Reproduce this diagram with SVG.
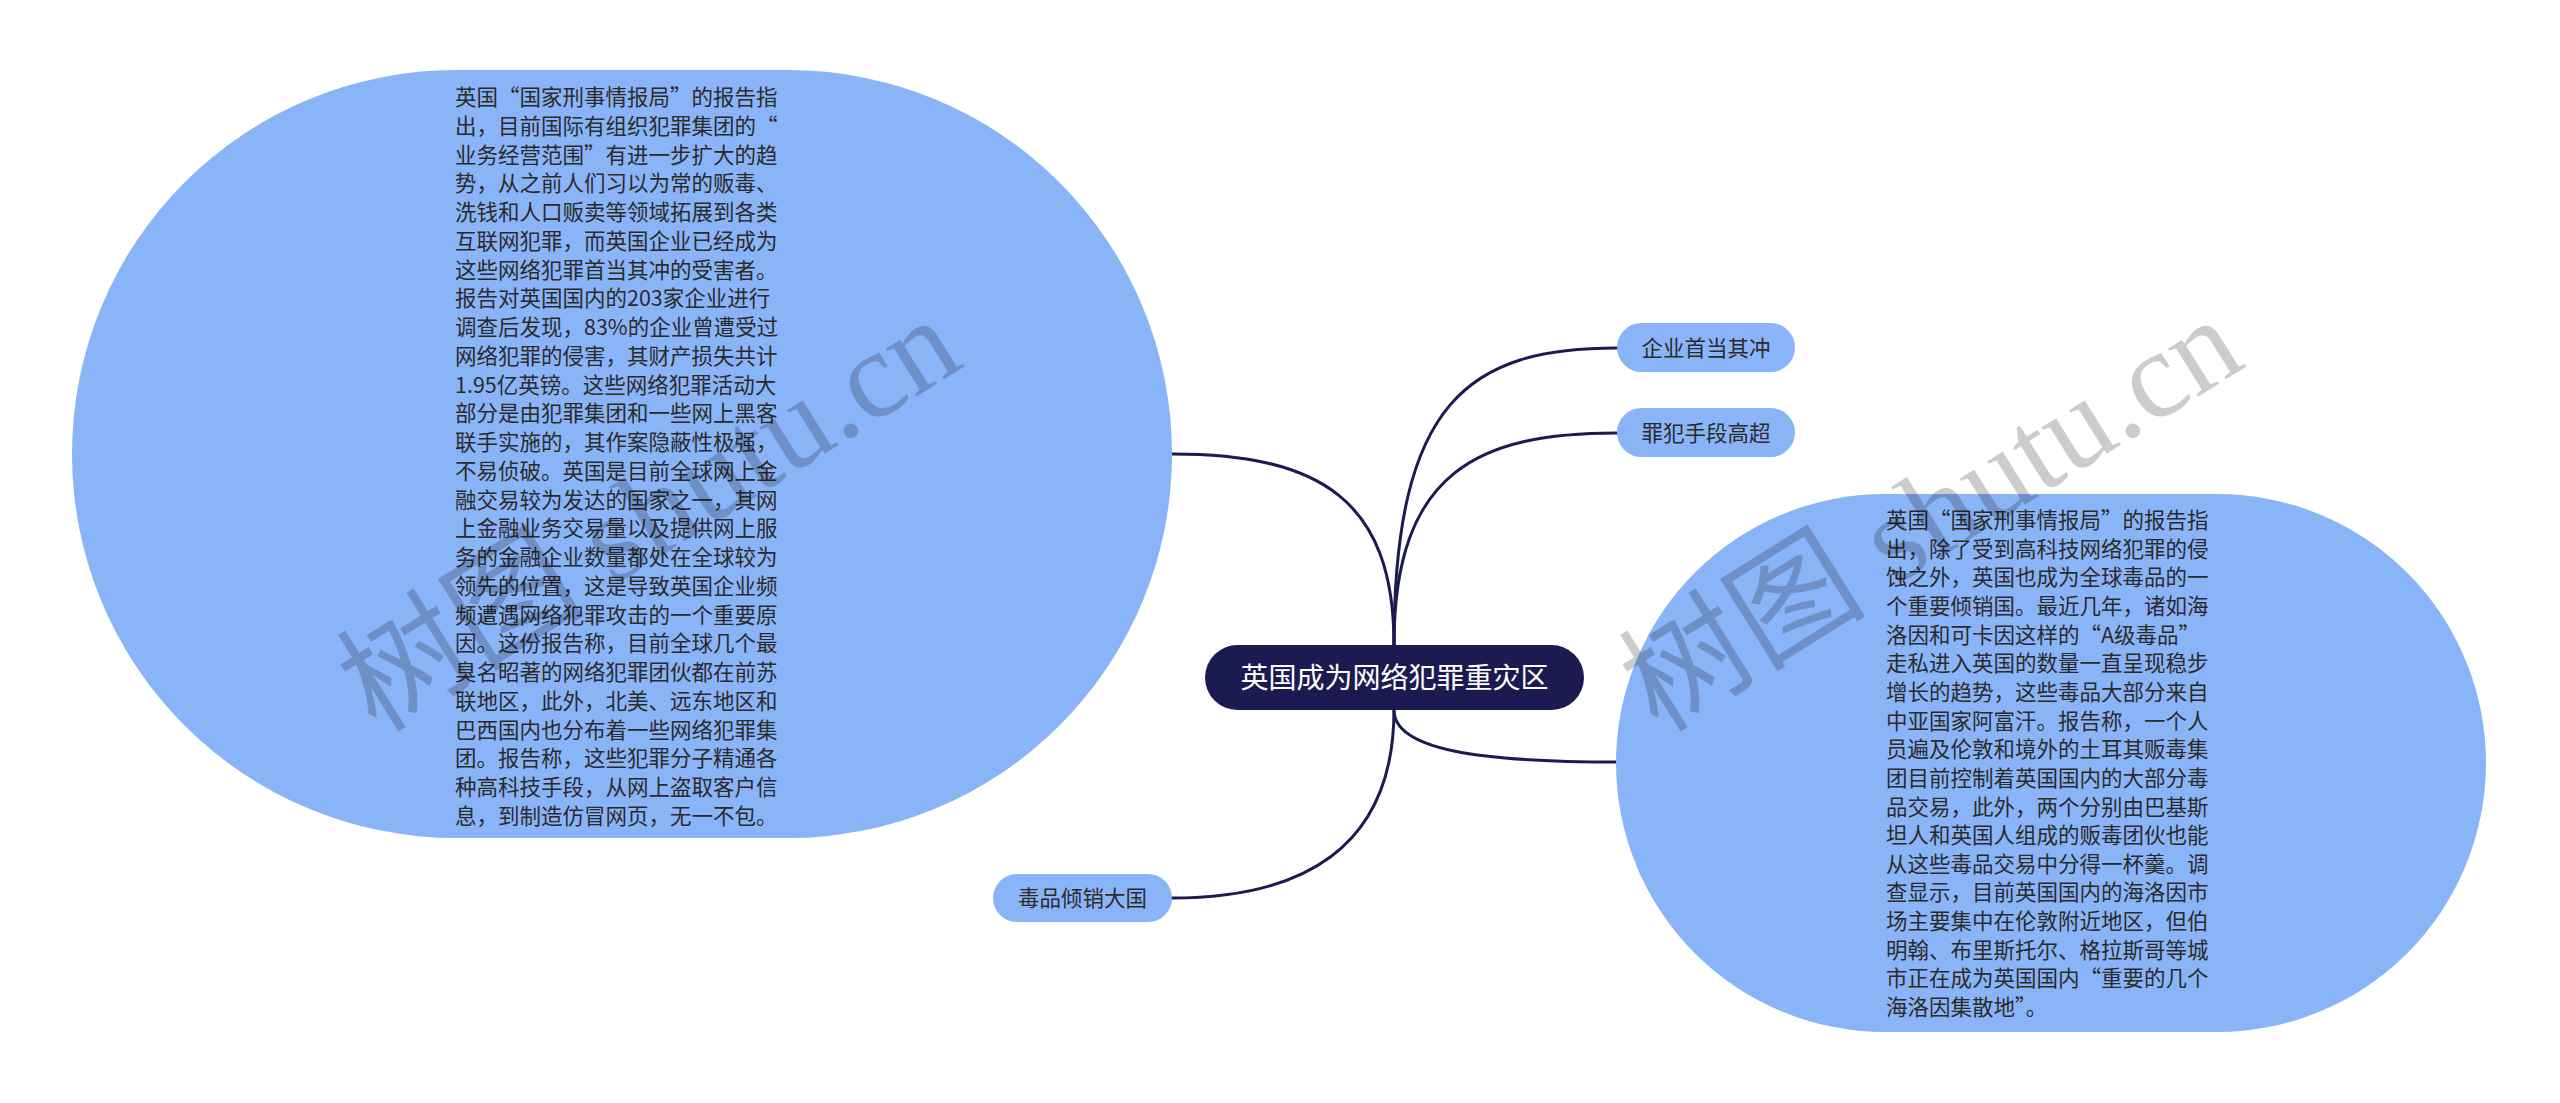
<svg xmlns="http://www.w3.org/2000/svg" width="2560" height="1103" viewBox="0 0 2560 1103">
<style>
.bubble{fill:#8ab4f8;}
.btxt{font-family:"Noto Sans CJK SC","Liberation Sans",sans-serif;font-size:21.5px;fill:#2b2b2b;}
.ntxt{font-family:"Noto Sans CJK SC","Liberation Sans",sans-serif;font-size:21.5px;fill:#2b2b2b;text-anchor:middle;}
.ctxt{font-family:"Noto Sans CJK SC","Liberation Sans",sans-serif;font-size:28px;fill:#ffffff;text-anchor:middle;}
.link{fill:none;stroke:#1b1b52;stroke-width:3;stroke-linecap:round;}
.wm{font-family:"Liberation Serif","Noto Sans CJK SC",serif;font-size:124px;fill:#000000;fill-opacity:0.2;text-anchor:middle;}
</style>
<rect x="0" y="0" width="2560" height="1103" fill="#ffffff"/>
<g id="connectors">
<path class="link" d="M1394,645 C1394,500 1320,454 1172,454"/>
<path class="link" d="M1394,645 C1394,400 1470,348 1617,348"/>
<path class="link" d="M1394,645 C1394,470 1480,433 1617,433"/>
<path class="link" d="M1394,710 C1394,850 1300,898 1172,898"/>
<path class="link" d="M1394,710 C1394,750 1480,762 1616,762"/>
</g>
<g id="node-left-detail">
<rect class="bubble" x="72" y="70" width="1100" height="768" rx="384" ry="384"/>
<text class="btxt" x="455" y="105">
<tspan x="455" dy="0">英国“国家刑事情报局”的报告指</tspan>
<tspan x="455" dy="28.75">出，目前国际有组织犯罪集团的“</tspan>
<tspan x="455" dy="28.75">业务经营范围”有进一步扩大的趋</tspan>
<tspan x="455" dy="28.75">势，从之前人们习以为常的贩毒、</tspan>
<tspan x="455" dy="28.75">洗钱和人口贩卖等领域拓展到各类</tspan>
<tspan x="455" dy="28.75">互联网犯罪，而英国企业已经成为</tspan>
<tspan x="455" dy="28.75">这些网络犯罪首当其冲的受害者。</tspan>
<tspan x="455" dy="28.75">报告对英国国内的203家企业进行</tspan>
<tspan x="455" dy="28.75">调查后发现，83%的企业曾遭受过</tspan>
<tspan x="455" dy="28.75">网络犯罪的侵害，其财产损失共计</tspan>
<tspan x="455" dy="28.75">1.95亿英镑。这些网络犯罪活动大</tspan>
<tspan x="455" dy="28.75">部分是由犯罪集团和一些网上黑客</tspan>
<tspan x="455" dy="28.75">联手实施的，其作案隐蔽性极强，</tspan>
<tspan x="455" dy="28.75">不易侦破。英国是目前全球网上金</tspan>
<tspan x="455" dy="28.75">融交易较为发达的国家之一，其网</tspan>
<tspan x="455" dy="28.75">上金融业务交易量以及提供网上服</tspan>
<tspan x="455" dy="28.75">务的金融企业数量都处在全球较为</tspan>
<tspan x="455" dy="28.75">领先的位置，这是导致英国企业频</tspan>
<tspan x="455" dy="28.75">频遭遇网络犯罪攻击的一个重要原</tspan>
<tspan x="455" dy="28.75">因。这份报告称，目前全球几个最</tspan>
<tspan x="455" dy="28.75">臭名昭著的网络犯罪团伙都在前苏</tspan>
<tspan x="455" dy="28.75">联地区，此外，北美、远东地区和</tspan>
<tspan x="455" dy="28.75">巴西国内也分布着一些网络犯罪集</tspan>
<tspan x="455" dy="28.75">团。报告称，这些犯罪分子精通各</tspan>
<tspan x="455" dy="28.75">种高科技手段，从网上盗取客户信</tspan>
<tspan x="455" dy="28.75">息，到制造仿冒网页，无一不包。</tspan>
</text>
</g>
<g id="node-right-detail">
<rect class="bubble" x="1616" y="494" width="870" height="538" rx="269" ry="269"/>
<text class="btxt" x="1886" y="528">
<tspan x="1886" dy="0">英国“国家刑事情报局”的报告指</tspan>
<tspan x="1886" dy="28.65">出，除了受到高科技网络犯罪的侵</tspan>
<tspan x="1886" dy="28.65">蚀之外，英国也成为全球毒品的一</tspan>
<tspan x="1886" dy="28.65">个重要倾销国。最近几年，诸如海</tspan>
<tspan x="1886" dy="28.65">洛因和可卡因这样的“A级毒品”</tspan>
<tspan x="1886" dy="28.65">走私进入英国的数量一直呈现稳步</tspan>
<tspan x="1886" dy="28.65">增长的趋势，这些毒品大部分来自</tspan>
<tspan x="1886" dy="28.65">中亚国家阿富汗。报告称，一个人</tspan>
<tspan x="1886" dy="28.65">员遍及伦敦和境外的土耳其贩毒集</tspan>
<tspan x="1886" dy="28.65">团目前控制着英国国内的大部分毒</tspan>
<tspan x="1886" dy="28.65">品交易，此外，两个分别由巴基斯</tspan>
<tspan x="1886" dy="28.65">坦人和英国人组成的贩毒团伙也能</tspan>
<tspan x="1886" dy="28.65">从这些毒品交易中分得一杯羹。调</tspan>
<tspan x="1886" dy="28.65">查显示，目前英国国内的海洛因市</tspan>
<tspan x="1886" dy="28.65">场主要集中在伦敦附近地区，但伯</tspan>
<tspan x="1886" dy="28.65">明翰、布里斯托尔、格拉斯哥等城</tspan>
<tspan x="1886" dy="28.65">市正在成为英国国内“重要的几个</tspan>
<tspan x="1886" dy="28.65">海洛因集散地”。</tspan>
</text>
</g>
<g id="node-center">
<rect x="1205" y="645" width="379" height="65" rx="32.5" ry="32.5" fill="#1b1b52"/>
<text class="ctxt" x="1394.5" y="688">英国成为网络犯罪重灾区</text>
</g>
<g id="node-1">
<rect class="bubble" x="1617" y="323" width="178" height="49" rx="24.5" ry="24.5"/>
<text class="ntxt" x="1706" y="356">企业首当其冲</text>
</g>
<g id="node-2">
<rect class="bubble" x="1617" y="408" width="178" height="49" rx="24.5" ry="24.5"/>
<text class="ntxt" x="1706" y="441">罪犯手段高超</text>
</g>
<g id="node-3">
<rect class="bubble" x="993" y="874" width="179" height="48" rx="24" ry="24"/>
<text class="ntxt" x="1082.5" y="906">毒品倾销大国</text>
</g>
<g id="watermarks">
<text class="wm" transform="translate(649,514) rotate(-32)" x="0" y="42">树图 shutu.cn</text>
<text class="wm" transform="translate(1931,514) rotate(-32)" x="0" y="42">树图 shutu.cn</text>
</g>
</svg>
